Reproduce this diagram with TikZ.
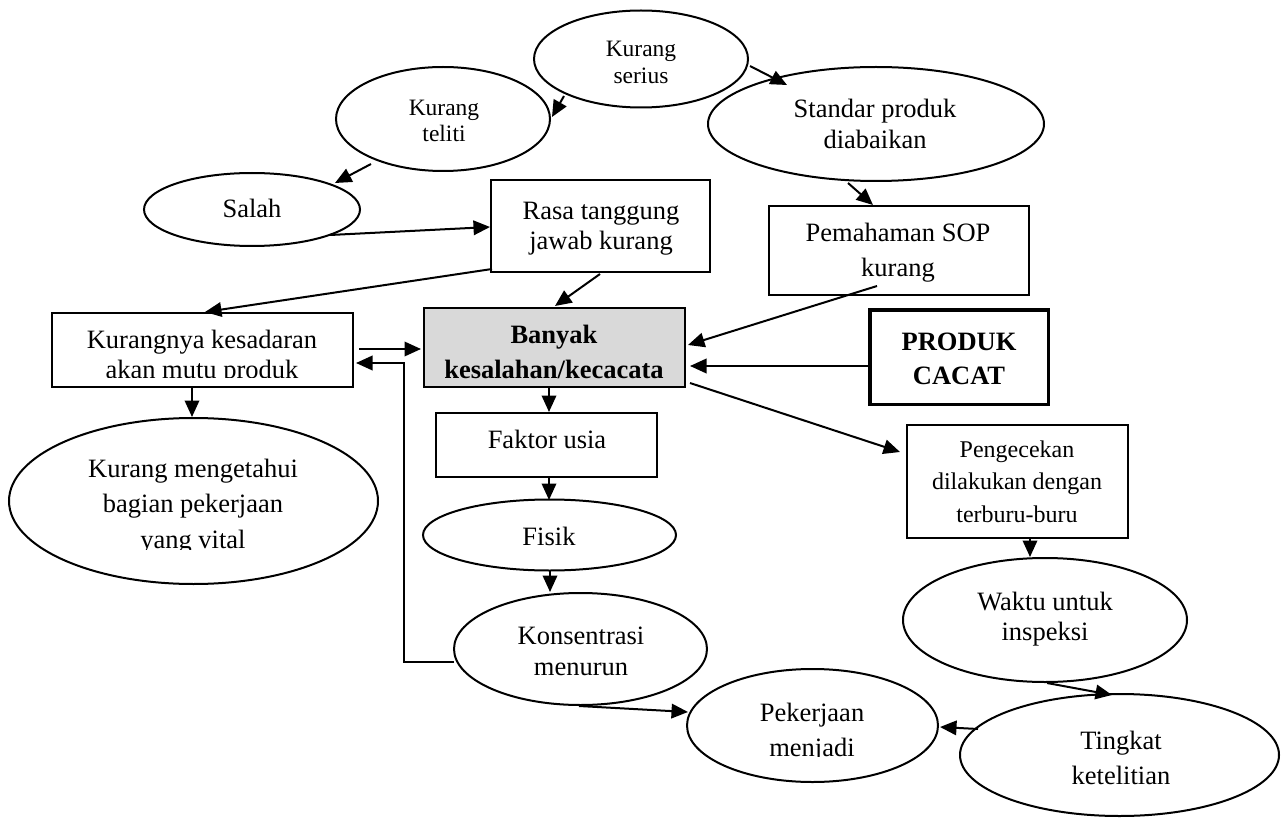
\documentclass[tikz,border=0pt]{standalone}
\usepackage{fontspec}
\setmainfont{Liberation Serif}
\usetikzlibrary{shapes.geometric,arrows.meta}
% centred lines of text whose first baseline is the node's base
\newcommand{\nodelines}[3]{\fontsize{#1}{#2}\selectfont\begin{tabular}[t]{@{}c@{}}#3\end{tabular}}
\tikzset{
  oval/.style={ellipse, draw, line width=2pt, inner sep=0pt},
  box/.style={rectangle, draw, line width=2pt, inner sep=0pt},
  lbl/.style={anchor=base, inner sep=0pt, outer sep=0pt},
  arr/.style={line width=2pt, -{Triangle[length=16.5pt,width=14.5pt]}},
}
\begin{document}
\begin{tikzpicture}[x=1pt,y=-1pt]
\useasboundingbox (0,0) rectangle (1282,818);

% ---------- shapes ----------
\node[oval, minimum width=214, minimum height=97] (serius) at (641,59) {};
\node[oval, minimum width=214, minimum height=104] (teliti) at (443,119) {};
\node[oval, minimum width=336, minimum height=114] (standar) at (876,124) {};
\node[oval, minimum width=216, minimum height=73] (salah) at (252,209.5) {};
\node[box, minimum width=219, minimum height=92] (rasa) at (600.5,226) {};
\node[box, minimum width=260, minimum height=89] (sop) at (899,250.5) {};
\node[box, minimum width=301, minimum height=74] (kesadaran) at (202.5,350) {};
\node[box, fill={rgb,255:red,217;green,217;blue,217}, minimum width=261, minimum height=79] (banyak) at (554.5,347.5) {};
\node[rectangle, draw, line width=3.5pt, inner sep=0pt, minimum width=178.5, minimum height=94.5] (cacat) at (959,357) {};
\node[box, minimum width=221, minimum height=64] (faktor) at (546.5,445) {};
\node[oval, minimum width=253, minimum height=71] (fisik) at (549.5,535) {};
\node[oval, minimum width=253, minimum height=112] (konsen) at (580.5,649) {};
\node[oval, minimum width=251, minimum height=113] (pekerjaan) at (812.5,725.5) {};
\node[oval, minimum width=369, minimum height=166] (kurangtahu) at (193.5,501) {};
\node[box, minimum width=221, minimum height=113] (pengecekan) at (1017.5,481.5) {};
\node[oval, minimum width=284, minimum height=124] (waktu) at (1045,620) {};
\node[oval, minimum width=319, minimum height=122] (tingkat) at (1119.5,755) {};

% ---------- texts ----------
\begin{scope}
  \clip (520,0) rectangle (760,83.5);
  \node[lbl] (t-serius) at (641,57) {\nodelines{23.5}{27}{Kurang\\serius}};
\end{scope}
\node[lbl] (t-teliti) at (444,116) {\nodelines{23.5}{26}{Kurang\\teliti}};
\node[lbl] (t-standar) at (875,118) {\nodelines{26.5}{31}{Standar produk\\diabaikan}};
\node[lbl] (t-salah) at (252,218) {\nodelines{26.5}{30}{Salah}};
\node[lbl] (t-rasa) at (601,220) {\nodelines{26.5}{30}{Rasa tanggung\\jawab kurang}};
\node[lbl] (t-sop) at (898,242) {\nodelines{26.5}{35}{Pemahaman SOP\\kurang}};
\begin{scope}
  \clip (50,300) rectangle (355,377.5);
  \node[lbl] (t-kesadaran) at (202,348) {\nodelines{26.5}{30}{Kurangnya kesadaran\\akan mutu produk}};
\end{scope}
\node[lbl] (t-banyak) at (554,343) {\nodelines{26.5}{35}{\bfseries Banyak\\\bfseries kesalahan/kecacata}};
\node[lbl] (t-cacat) at (959,350) {\nodelines{26.5}{34}{\bfseries PRODUK\\\bfseries CACAT}};
\node[lbl] (t-faktor) at (547,448) {\nodelines{26.5}{30}{Faktor usia}};
\node[lbl] (t-fisik) at (549,545.5) {\nodelines{26.5}{30}{Fisik}};
\node[lbl] (t-konsen) at (581,644) {\nodelines{26.5}{31}{Konsentrasi\\menurun}};
\begin{scope}
  \clip (680,660) rectangle (940,756.5);
  \node[lbl] (t-pekerjaan) at (812,721) {\nodelines{26.5}{35}{Pekerjaan\\menjadi}};
\end{scope}
\begin{scope}
  \clip (0,410) rectangle (380,549.5);
  \node[lbl] (t-kurangtahu) at (193,477) {\nodelines{26.5}{35.8}{Kurang mengetahui\\bagian pekerjaan\\yang vital}};
\end{scope}
\node[lbl] (t-pengecekan) at (1017,457) {\nodelines{24}{32.5}{Pengecekan\\dilakukan dengan\\terburu-buru}};
\node[lbl] (t-waktu) at (1045,610) {\nodelines{26.5}{30}{Waktu untuk\\inspeksi}};
\node[lbl] (t-tingkat) at (1121,749) {\nodelines{26.5}{35}{Tingkat\\ketelitian}};

% ---------- connectors ----------
\draw[arr] ([shift={(-77,37)}]serius.center) -- ([shift={(109,-2)}]teliti.center);
\draw[arr] ([shift={(109,7)}]serius.center) -- ([shift={(-89,-39)}]standar.center);
\draw[arr] ([shift={(-72,45)}]teliti.center) -- ([shift={(83,-26.5)}]salah.center);
\draw[arr] ([shift={(78,25.5)}]salah.center) -- ([shift={(-110.5,1)}]rasa.center);
\draw[arr] ([shift={(-108.5,43)}]rasa.center) -- ([shift={(2.5,-38)}]kesadaran.center);
\draw[arr] ([shift={(-0.5,48)}]rasa.center) -- ([shift={(0.5,-41.5)}]banyak.center);
\draw[arr] ([shift={(-28,59)}]standar.center) -- ([shift={(-26,-45.5)}]sop.center);
\draw[arr] ([shift={(-22,35.5)}]sop.center) -- ([shift={(133.5,-2.5)}]banyak.center);
\draw[arr] ([shift={(-91,9)}]cacat.center) -- ([shift={(135.5,18.5)}]banyak.center);
\draw[arr] ([shift={(156.5,-1)}]kesadaran.center) -- ([shift={(-133.5,1.5)}]banyak.center);
\draw[arr] ([shift={(-126.5,13)}]konsen.center) -- ++(-50,0) |- ([shift={(153.5,13)}]kesadaran.center);
\draw[arr] ([shift={(-5.5,40.5)}]banyak.center) -- ([shift={(2.5,-33)}]faktor.center);
\draw[arr] ([shift={(2.5,33)}]faktor.center) -- ([shift={(-0.5,-35)}]fisik.center);
\draw[arr] ([shift={(0.5,36)}]fisik.center) -- ([shift={(-30.5,-57)}]konsen.center);
\draw[arr] ([shift={(-10.5,38)}]kesadaran.center) -- ([shift={(-1.5,-84)}]kurangtahu.center);
\draw[arr] ([shift={(135.5,35.5)}]banyak.center) -- ([shift={(-117.5,-29.5)}]pengecekan.center);
\draw[arr] ([shift={(12.5,57.5)}]pengecekan.center) -- ([shift={(-15,-63)}]waktu.center);
\draw[arr] ([shift={(2,63)}]waktu.center) -- ([shift={(-7.5,-60)}]tingkat.center);
\draw[arr] ([shift={(-141.5,-26)}]tingkat.center) -- ([shift={(127.5,1.5)}]pekerjaan.center);
\draw[arr] ([shift={(-1.5,57)}]konsen.center) -- ([shift={(-124.5,-13.5)}]pekerjaan.center);
\end{tikzpicture}
\end{document}
